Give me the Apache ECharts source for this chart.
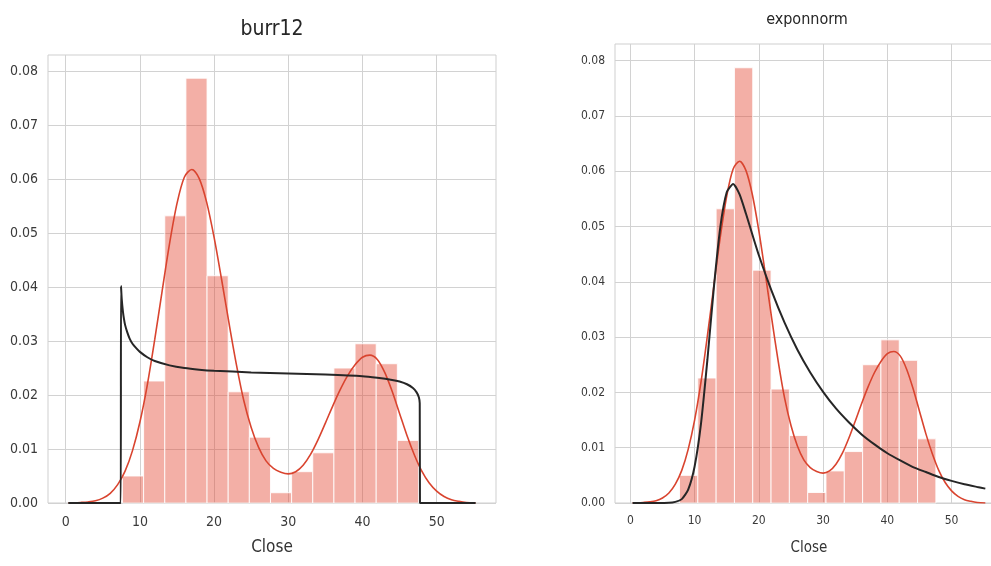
<!DOCTYPE html>
<html>
<head>
<meta charset="utf-8">
<script src="https://cdn.jsdelivr.net/npm/echarts@6/dist/echarts.min.js"></script>
<style>
  html, body { margin: 0; padding: 0; background: #ffffff; }
  #chart { width: 991px; height: 566px; }
</style>
</head>
<body>
<div id="chart"></div>
<script>
// Histogram of closing prices (density) - bin edges and heights
const binEdges = [7.65, 10.5, 13.35, 16.2, 19.05, 21.9, 24.75, 27.6, 30.45, 33.3, 36.15, 39.0, 41.85, 44.7, 47.55];
const binDensity = [0.0050, 0.0226, 0.0532, 0.0787, 0.0421, 0.0206, 0.0122, 0.0019, 0.0058, 0.0093, 0.0250, 0.0295, 0.0258, 0.0116];

// Kernel density estimate of Close
const kdeX = [0.35, 1, 2, 3, 4, 5, 6, 7, 8, 9, 10, 11, 12, 13, 14, 15, 16, 17, 18, 19, 20, 21, 22, 23, 24, 25, 26, 27, 28, 29, 30, 31, 32, 33, 34, 35, 36, 37, 38, 39, 40, 41, 42, 43, 44, 45, 46, 47, 48, 49, 50, 51, 52, 53, 54, 55.25];
const kdeY = [0.0000, 0.00003, 0.0001, 0.0002, 0.0004, 0.0009, 0.0018, 0.0034, 0.0059, 0.0097, 0.0150, 0.0219, 0.0303, 0.0393, 0.0481, 0.0555, 0.0604, 0.0618, 0.0601, 0.0557, 0.0492, 0.0415, 0.0334, 0.0257, 0.0190, 0.0140, 0.0103, 0.0078, 0.0064, 0.0057, 0.0054, 0.0058, 0.0070, 0.0090, 0.0117, 0.0148, 0.0180, 0.0210, 0.0236, 0.0256, 0.0270, 0.0274, 0.0266, 0.0242, 0.0207, 0.0166, 0.0125, 0.0089, 0.0059, 0.0037, 0.0022, 0.0012, 0.0006, 0.0003, 0.0001, 0.0000];

// Fitted burr12 density
const burrX = [0.35, 7.42, 7.45, 7.55, 7.7, 7.85, 8.0, 8.3, 8.6, 9.0, 9.5, 10, 11, 12, 14, 16, 18, 20, 25, 30, 35, 40, 42, 44, 45, 46, 46.8, 47.3, 47.6, 47.72, 47.75, 55.25];
const burrY = [0, 0, 0.0402, 0.0378, 0.0356, 0.0341, 0.0330, 0.0316, 0.0305, 0.0295, 0.0287, 0.0280, 0.0270, 0.0263, 0.0255, 0.0250, 0.0247, 0.0245, 0.0242, 0.0240, 0.0238, 0.0235, 0.0232, 0.0228, 0.0225, 0.0220, 0.0213, 0.0205, 0.0196, 0.0185, 0, 0];

// Fitted exponnorm density
const expX = [0.35, 4, 5, 6, 7, 8, 9, 10, 11, 12, 13, 14, 15, 16, 17, 18, 19, 20, 22, 24, 26, 28, 30, 32, 34, 36, 38, 40, 42, 44, 46, 48, 50, 52, 54, 55.25];
const expY = [0, 0.00001, 0.00002, 0.00003, 0.0002, 0.0007, 0.0024, 0.0066, 0.0144, 0.0260, 0.0390, 0.0499, 0.0562, 0.0577, 0.0558, 0.0523, 0.0485, 0.0448, 0.0383, 0.0326, 0.0277, 0.0236, 0.0201, 0.0171, 0.0146, 0.0124, 0.0106, 0.0090, 0.0077, 0.0065, 0.0056, 0.0047, 0.0040, 0.0034, 0.0029, 0.0026];

// Axis ticks
const xTicks = [0, 10, 20, 30, 40, 50];
const yTicks = [0, 0.01, 0.02, 0.03, 0.04, 0.05, 0.06, 0.07, 0.08];

const titles = ['burr12', 'exponnorm'];
const xName = 'Close';

const FONT = '"DejaVu Sans Condensed", "Liberation Sans Narrow", "Liberation Sans", Arial, sans-serif';
const GRID_COLOR = '#d2d2d2';

const pairs = (xs, ys) => xs.map((x, i) => [x, ys[i]]);
const histData = binDensity.map((d, i) => [binEdges[i], binEdges[i + 1], d]);

function histItem(params, api) {
  const x0 = api.value(0), x1 = api.value(1), h = api.value(2);
  const p0 = api.coord([x0, h]);
  const p1 = api.coord([x1, 0]);
  return {
    type: 'rect',
    shape: { x: p0[0], y: p0[1], width: p1[0] - p0[0], height: p1[1] - p0[1] },
    style: { fill: 'rgba(226, 64, 42, 0.42)', stroke: 'rgba(255,255,255,0.85)', lineWidth: 1 }
  };
}

function xAxisFor(gridIndex, fontSize, nameSize, nameGap) {
  return {
    type: 'value', gridIndex, min: -2.39, max: 58.0,
    axisLine: { show: false },
    axisTick: { show: false, customValues: xTicks },
    axisLabel: { customValues: xTicks, color: '#3a3a3a', fontFamily: FONT, fontSize, margin: 12 },
    splitLine: { show: true, lineStyle: { color: GRID_COLOR, width: 1 } },
    name: xName, nameLocation: 'middle', nameGap,
    nameTextStyle: { color: '#333', fontFamily: FONT, fontSize: nameSize }
  };
}

function yAxisFor(gridIndex, fontSize, margin) {
  return {
    type: 'value', gridIndex, min: 0, max: 0.083,
    axisLine: { show: false },
    axisTick: { show: false, customValues: yTicks },
    axisLabel: {
      customValues: yTicks, color: '#3a3a3a', fontFamily: FONT, fontSize, margin,
      formatter: v => v.toFixed(2)
    },
    splitLine: { show: true, lineStyle: { color: GRID_COLOR, width: 1 } }
  };
}

function seriesFor(idx, fitX, fitY) {
  return [
    { type: 'custom', xAxisIndex: idx, yAxisIndex: idx, renderItem: histItem,
      encode: { x: [0, 1], y: 2 }, data: histData, z: 2, silent: true },
    { type: 'line', xAxisIndex: idx, yAxisIndex: idx, data: pairs(kdeX, kdeY),
      showSymbol: false, smooth: 0.3, lineStyle: { color: '#d9442f', width: 1.6 }, z: 3, silent: true },
    { type: 'line', xAxisIndex: idx, yAxisIndex: idx, data: pairs(fitX, fitY),
      showSymbol: false, smooth: 0.2, lineStyle: { color: '#262626', width: 2 }, z: 4, silent: true }
  ];
}

const chart = echarts.init(document.getElementById('chart'), null, { renderer: 'canvas' });
chart.setOption({
  animation: false,
  backgroundColor: '#ffffff',
  grid: [
    { left: 48, top: 55, width: 448, height: 448, show: true, borderColor: '#cfcfcf', borderWidth: 1,
      backgroundColor: 'transparent', outerBoundsMode: 'none', containLabel: false },
    { left: 615, top: 44, width: 388, height: 459, show: true, borderColor: '#cfcfcf', borderWidth: 1,
      backgroundColor: 'transparent', outerBoundsMode: 'none', containLabel: false }
  ],
  xAxis: [xAxisFor(0, 14, 17, 36), xAxisFor(1, 12, 15, 38)],
  yAxis: [yAxisFor(0, 14, 10), yAxisFor(1, 12, 10)],
  graphic: [
    { type: 'text', x: 272, y: 30, style: { text: titles[0], align: 'center', verticalAlign: 'middle',
      font: '21px ' + FONT, fill: '#262626' } },
    { type: 'text', x: 807, y: 20, style: { text: titles[1], align: 'center', verticalAlign: 'middle',
      font: '16px ' + FONT, fill: '#262626' } }
  ],
  series: [...seriesFor(0, burrX, burrY), ...seriesFor(1, expX, expY)]
});
</script>
</body>
</html>
